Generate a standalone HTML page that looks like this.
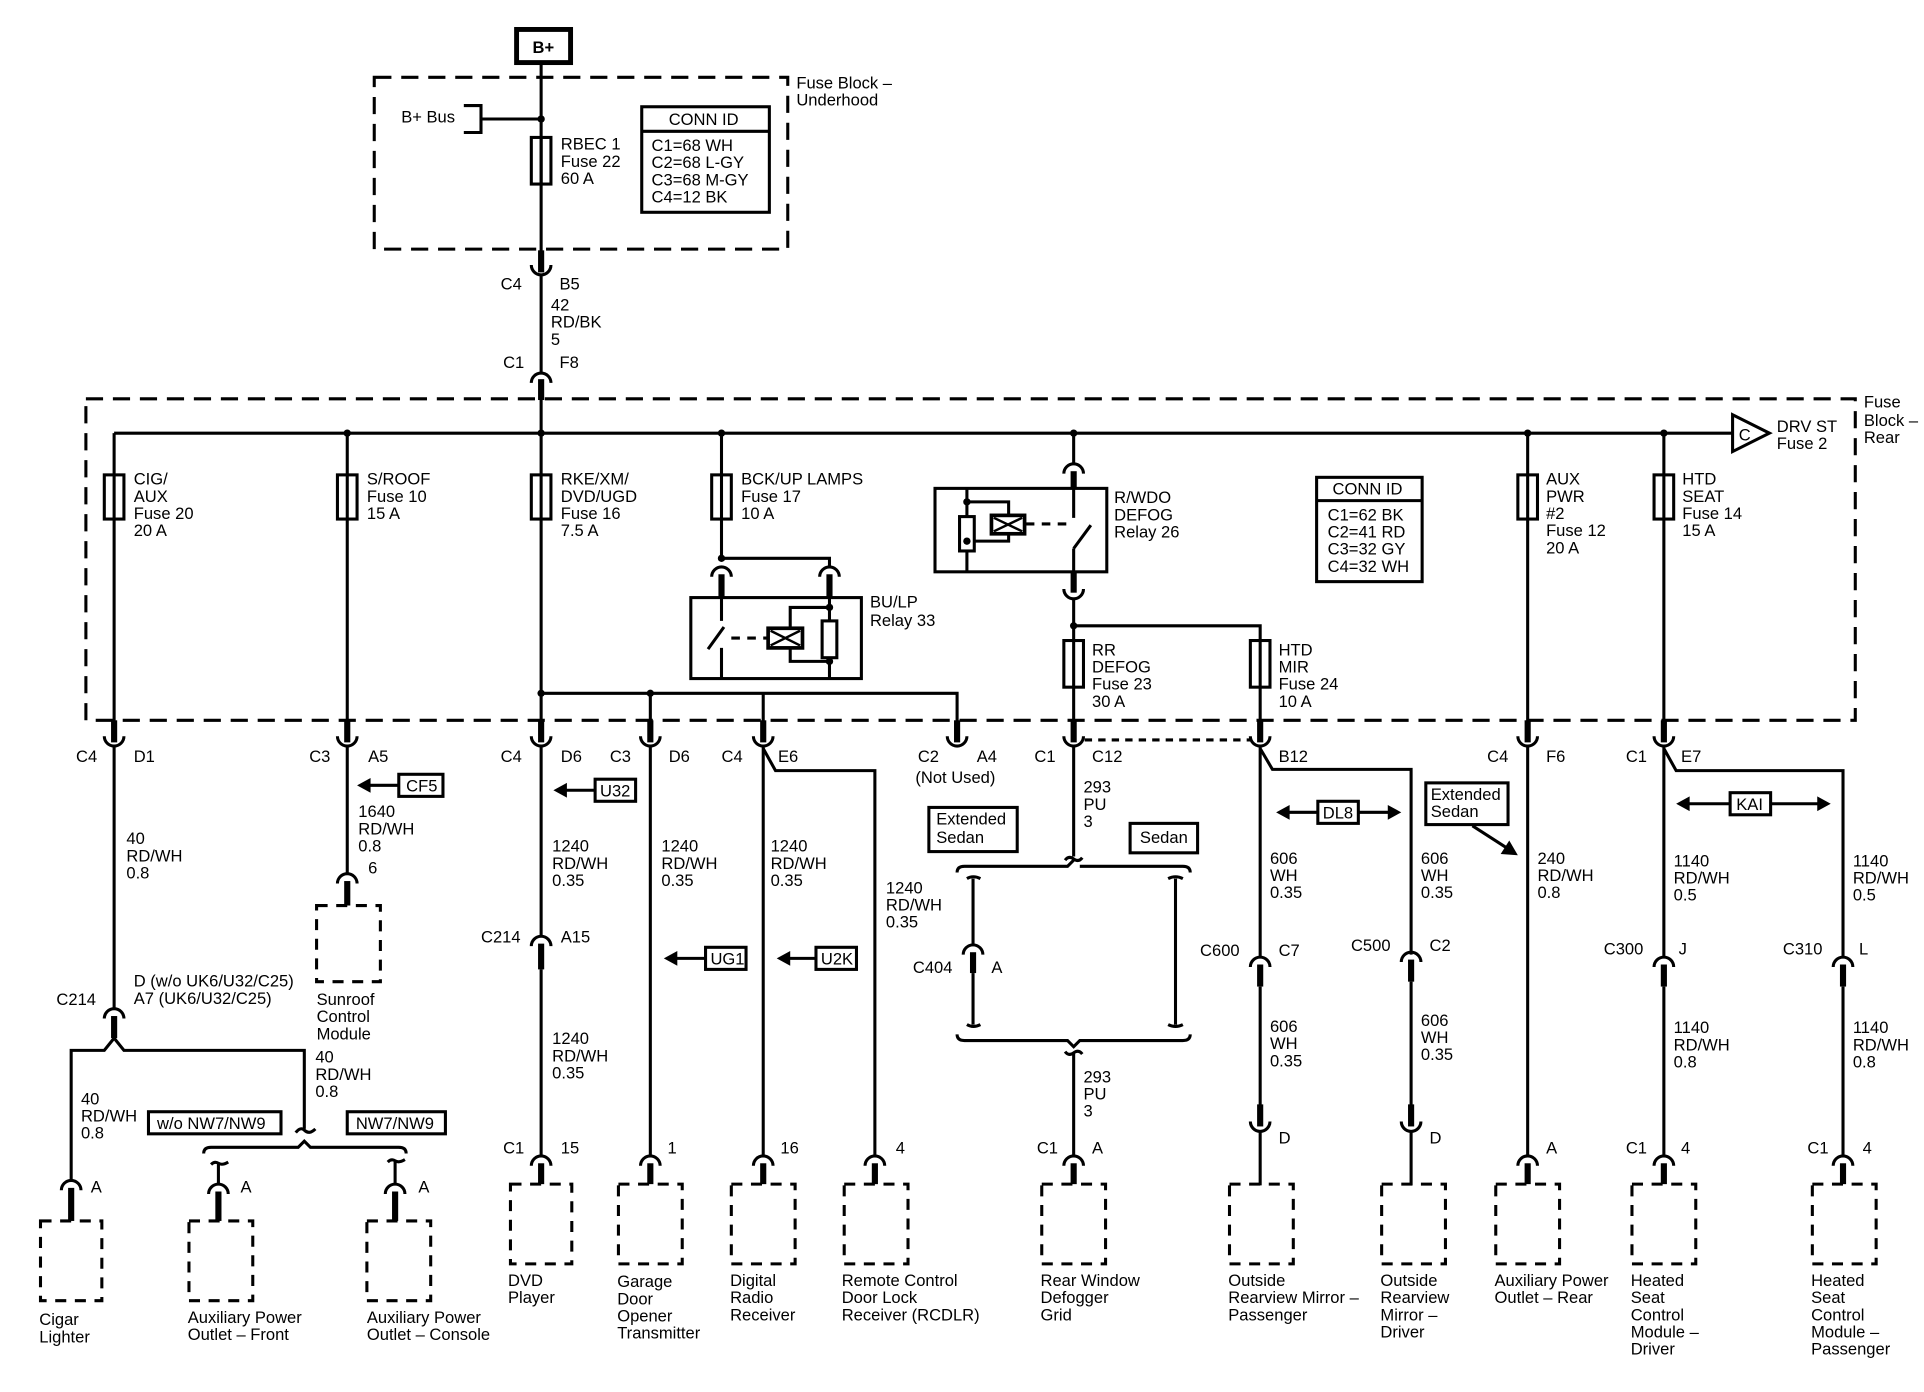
<!DOCTYPE html>
<html><head><meta charset="utf-8"><style>
html,body{margin:0;padding:0;background:#fff;}
svg{display:block;}
text{font-family:"Liberation Sans",Arial,sans-serif;font-size:13.5px;fill:#000;}
.w{stroke:#000;stroke-width:2.5;fill:none;}
.p{stroke:#000;stroke-width:5;fill:none;}
.d{stroke:#000;stroke-width:2.5;fill:none;stroke-dasharray:14 8;}
.db{stroke:#000;stroke-width:2.5;fill:#fff;stroke-dasharray:9 7;}
.b{stroke:#000;stroke-width:2.5;fill:#fff;}
.f{stroke:#000;stroke-width:2.5;fill:none;}
</style></head><body>
<svg width="1924" height="1392" viewBox="0 0 1568 1134.4" preserveAspectRatio="none" xmlns="http://www.w3.org/2000/svg">
<defs>
<path id="U" d="M-8,0 A8,8 0 0 0 8,0" stroke="#000" stroke-width="2.5" fill="none"/>
<path id="N" d="M-8,8 A8,8 0 0 1 8,8" stroke="#000" stroke-width="2.5" fill="none"/>
<circle id="dot" r="3" fill="#000"/>
</defs>

<!-- TOP -->
<rect x="421" y="24" width="44" height="27" fill="#fff" stroke="#000" stroke-width="4"/>
<text x="434" y="43" font-weight="bold">B+</text>
<line class="w" x1="441" y1="51" x2="441" y2="206"/>
<rect class="d" x="305" y="63" width="337" height="140"/>
<text x="327" y="100">B+ Bus</text>
<path class="w" d="M378,86 H392 V108 H378 M392,97 H441"/>
<use href="#dot" x="441" y="97"/>
<rect class="f" x="433" y="112" width="16" height="38" fill="#fff"/>
<line class="w" x1="441" y1="112" x2="441" y2="150"/>
<text x="457" y="122">RBEC 1</text><text x="457" y="136">Fuse 22</text><text x="457" y="150">60 A</text>
<rect class="b" x="523" y="87" width="104" height="86"/>
<line class="w" x1="523" y1="107" x2="627" y2="107"/>
<text x="545" y="102">CONN ID</text>
<text x="531" y="123">C1=68 WH</text><text x="531" y="137">C2=68 L-GY</text><text x="531" y="151">C3=68 M-GY</text><text x="531" y="165">C4=12 BK</text>
<text x="649" y="72">Fuse Block –</text><text x="649" y="86">Underhood</text>

<line class="p" x1="441" y1="204" x2="441" y2="222"/><use href="#U" x="441" y="216"/>
<text x="408" y="236">C4</text><text x="456" y="236">B5</text>
<line class="w" x1="441" y1="224" x2="441" y2="305"/>
<text x="449" y="253">42</text><text x="449" y="267">RD/BK</text><text x="449" y="281">5</text>
<text x="410" y="300">C1</text><text x="456" y="300">F8</text>
<use href="#N" x="441" y="304"/><line class="p" x1="441" y1="309" x2="441" y2="326"/>

<!-- REAR FUSE BLOCK -->
<rect class="d" x="70" y="325" width="1442" height="262"/>
<line class="w" x1="93" y1="353" x2="1412" y2="353"/>
<path class="b" d="M1412,338 L1442,353 L1412,368 Z"/>
<text x="1417" y="359">C</text>
<text x="1448" y="352">DRV ST</text><text x="1448" y="366">Fuse 2</text>
<text x="1519" y="332">Fuse</text><text x="1519" y="347">Block –</text><text x="1519" y="361">Rear</text>
<use href="#dot" x="283" y="353"/><use href="#dot" x="441" y="353"/><use href="#dot" x="588" y="353"/><use href="#dot" x="875" y="353"/><use href="#dot" x="1245" y="353"/><use href="#dot" x="1356" y="353"/>

<path class="w" d="M93,353 V590 M283,353 V590 M441,326 V590 M1245,353 V590 M1356,353 V590"/>
<rect class="f" x="85" y="387" width="16" height="36" fill="none"/>
<rect class="f" x="275" y="387" width="16" height="36"/>
<rect class="f" x="433" y="387" width="16" height="36"/>
<rect class="f" x="580" y="387" width="16" height="36"/>
<rect class="f" x="1237" y="387" width="16" height="36"/>
<rect class="f" x="1348" y="387" width="16" height="36"/>
<text x="109" y="395">CIG/</text><text x="109" y="409">AUX</text><text x="109" y="423">Fuse 20</text><text x="109" y="437">20 A</text>
<text x="299" y="395">S/ROOF</text><text x="299" y="409">Fuse 10</text><text x="299" y="423">15 A</text>
<text x="457" y="395">RKE/XM/</text><text x="457" y="409">DVD/UGD</text><text x="457" y="423">Fuse 16</text><text x="457" y="437">7.5 A</text>
<text x="604" y="395">BCK/UP LAMPS</text><text x="604" y="409">Fuse 17</text><text x="604" y="423">10 A</text>
<text x="1260" y="395">AUX</text><text x="1260" y="409">PWR</text><text x="1260" y="423">#2</text><text x="1260" y="437">Fuse 12</text><text x="1260" y="451">20 A</text>
<text x="1371" y="395">HTD</text><text x="1371" y="409">SEAT</text><text x="1371" y="423">Fuse 14</text><text x="1371" y="437">15 A</text>

<!-- BU/LP relay -->
<path class="w" d="M588,353 V455 H676 V462"/>
<use href="#dot" x="588" y="455"/>
<use href="#N" x="588" y="462"/><use href="#N" x="676" y="462"/>
<line class="p" x1="588" y1="468" x2="588" y2="488"/><line class="p" x1="676" y1="468" x2="676" y2="488"/>
<rect class="b" x="563" y="487" width="139" height="66"/>
<path class="w" d="M588,487 V506 M577,529 L590,511 M588,528 V553 M676,487 V553 M676,495 H644 V539 H676"/>
<path class="w" d="M596,520 H625" stroke-dasharray="7 6"/>
<rect x="626" y="512" width="28" height="16" fill="#fff" stroke="#000" stroke-width="3"/>
<path d="M628,514 L652,526 M652,514 L628,526" stroke="#000" stroke-width="2"/>
<rect class="b" x="670" y="506" width="12" height="30"/>
<use href="#dot" x="676" y="495"/><use href="#dot" x="676" y="539"/>
<text x="709" y="495">BU/LP</text><text x="709" y="510">Relay 33</text>

<path class="w" d="M441,565 H780 V590 M530,565 V590 M622,565 V590"/>
<use href="#dot" x="441" y="565"/><use href="#dot" x="530" y="565"/>

<!-- R/WDO relay -->
<path class="w" d="M875,353 V378"/>
<use href="#N" x="875" y="378"/><line class="p" x1="875" y1="384" x2="875" y2="399"/>
<rect class="b" x="762" y="398" width="140" height="68"/>
<path class="w" d="M875,398 V422 M875,447 L889,428 M875,447 V466 M788,398 V466 M788,409 H822 V441 H788"/>
<path class="w" d="M836,427 H870" stroke-dasharray="7 6"/>
<rect x="808" y="420" width="27" height="15" fill="#fff" stroke="#000" stroke-width="3"/>
<path d="M810,422 L833,433 M833,422 L810,433" stroke="#000" stroke-width="2"/>
<rect class="b" x="782" y="421" width="12" height="28"/>
<use href="#dot" x="788" y="409"/><use href="#dot" x="788" y="441"/>
<text x="908" y="410">R/WDO</text><text x="908" y="424">DEFOG</text><text x="908" y="438">Relay 26</text>
<line class="p" x1="875" y1="466" x2="875" y2="483"/><use href="#U" x="875" y="480"/>
<path class="w" d="M875,488 V590 M875,510 H1027 V590"/>
<use href="#dot" x="875" y="510"/>
<rect class="f" x="867" y="522" width="16" height="38"/>
<rect class="f" x="1019" y="522" width="16" height="38"/>
<text x="890" y="534">RR</text><text x="890" y="548">DEFOG</text><text x="890" y="562">Fuse 23</text><text x="890" y="576">30 A</text>
<text x="1042" y="534">HTD</text><text x="1042" y="548">MIR</text><text x="1042" y="562">Fuse 24</text><text x="1042" y="576">10 A</text>

<rect class="b" x="1073" y="389" width="86" height="85"/>
<line class="w" x1="1073" y1="408" x2="1159" y2="408"/>
<text x="1086" y="403">CONN ID</text>
<text x="1082" y="424">C1=62 BK</text><text x="1082" y="438">C2=41 RD</text><text x="1082" y="452">C3=32 GY</text><text x="1082" y="466">C4=32 WH</text>

<g>
<line class="p" x1="93" y1="587" x2="93" y2="605"/><use href="#U" x="93" y="600"/>
<line class="p" x1="283" y1="587" x2="283" y2="605"/><use href="#U" x="283" y="600"/>
<line class="p" x1="441" y1="587" x2="441" y2="605"/><use href="#U" x="441" y="600"/>
<line class="p" x1="530" y1="587" x2="530" y2="605"/><use href="#U" x="530" y="600"/>
<line class="p" x1="622" y1="587" x2="622" y2="605"/><use href="#U" x="622" y="600"/>
<line class="p" x1="780" y1="587" x2="780" y2="605"/><use href="#U" x="780" y="600"/>
<line class="p" x1="875" y1="587" x2="875" y2="605"/><use href="#U" x="875" y="600"/>
<line class="p" x1="1027" y1="587" x2="1027" y2="605"/><use href="#U" x="1027" y="600"/>
<line class="p" x1="1245" y1="587" x2="1245" y2="605"/><use href="#U" x="1245" y="600"/>
<line class="p" x1="1356" y1="587" x2="1356" y2="605"/><use href="#U" x="1356" y="600"/>
</g>
<text x="62" y="621">C4</text><text x="109" y="621">D1</text>
<text x="252" y="621">C3</text><text x="300" y="621">A5</text>
<text x="408" y="621">C4</text><text x="457" y="621">D6</text>
<text x="497" y="621">C3</text><text x="545" y="621">D6</text>
<text x="588" y="621">C4</text><text x="634" y="621">E6</text>
<text x="748" y="621">C2</text><text x="796" y="621">A4</text><text x="746" y="638">(Not Used)</text>
<text x="843" y="621">C1</text><text x="890" y="621">C12</text>
<text x="1042" y="621">B12</text>
<text x="1212" y="621">C4</text><text x="1260" y="621">F6</text>
<text x="1325" y="621">C1</text><text x="1370" y="621">E7</text>
<path class="w" d="M884,603 H1020" stroke-dasharray="6 5"/>

<!-- 93 branch -->
<line class="w" x1="93" y1="608" x2="93" y2="822"/>
<text x="103" y="688">40</text><text x="103" y="702">RD/WH</text><text x="103" y="716">0.8</text>
<text x="109" y="804">D (w/o UK6/U32/C25)</text><text x="109" y="818">A7 (UK6/U32/C25)</text>
<text x="46" y="819">C214</text>
<use href="#N" x="93" y="822"/><line class="p" x1="93" y1="828" x2="93" y2="846"/>
<path class="w" d="M58,962 V856 H85 L93,846 L101,856 H248 V920 M241,923 Q245,918 248,921 Q252,925 257,920"/>
<text x="66" y="900">40</text><text x="66" y="914">RD/WH</text><text x="66" y="928">0.8</text>
<text x="257" y="866">40</text><text x="257" y="880">RD/WH</text><text x="257" y="894">0.8</text>
<rect class="b" x="121" y="906" width="108" height="18"/><text x="128" y="920">w/o NW7/NW9</text>
<rect class="b" x="283" y="906" width="80" height="18"/><text x="290" y="920">NW7/NW9</text>
<path class="w" d="M166,940 Q166,935 172,935 H243 L248,930 L253,935 H325 Q331,935 331,940"/>
<path class="w" d="M172,949 Q175,946 178,948 Q181,950 186,947 M178,948 V965 M316,947 Q319,944 322,946 Q325,948 330,945 M322,946 V965"/>
<use href="#N" x="58" y="962"/><line class="p" x1="58" y1="968" x2="58" y2="996"/>
<use href="#N" x="178" y="965"/><line class="p" x1="178" y1="971" x2="178" y2="996"/>
<use href="#N" x="322" y="965"/><line class="p" x1="322" y1="971" x2="322" y2="996"/>
<text x="74" y="972">A</text><text x="196" y="972">A</text><text x="341" y="972">A</text>
<rect class="db" x="33" y="995" width="50" height="65"/>
<rect class="db" x="154" y="995" width="52" height="65"/>
<rect class="db" x="299" y="995" width="52" height="65"/>
<text x="32" y="1080">Cigar</text><text x="32" y="1094">Lighter</text>
<text x="153" y="1078">Auxiliary Power</text><text x="153" y="1092">Outlet – Front</text>
<text x="299" y="1078">Auxiliary Power</text><text x="299" y="1092">Outlet – Console</text>

<!-- 283 -->
<line class="w" x1="283" y1="608" x2="283" y2="712"/>
<rect class="b" x="325" y="631" width="36" height="18"/><text x="331" y="645">CF5</text>
<path class="w" d="M300,640 H325"/><path d="M291,640 L302,634 L302,646 Z" fill="#000"/>
<text x="292" y="666">1640</text><text x="292" y="680">RD/WH</text><text x="292" y="694">0.8</text><text x="300" y="712">6</text>
<use href="#N" x="283" y="712"/><line class="p" x1="283" y1="718" x2="283" y2="738"/>
<rect class="db" x="258" y="738" width="52" height="62"/>
<text x="258" y="819">Sunroof</text><text x="258" y="833">Control</text><text x="258" y="847">Module</text>

<!-- 441 -->
<line class="w" x1="441" y1="608" x2="441" y2="763"/>
<rect class="b" x="485" y="635" width="33" height="18"/><text x="489" y="649">U32</text>
<path class="w" d="M460,644 H485"/><path d="M451,644 L462,638 L462,650 Z" fill="#000"/>
<text x="450" y="694">1240</text><text x="450" y="708">RD/WH</text><text x="450" y="722">0.35</text>
<text x="392" y="768">C214</text><text x="457" y="768">A15</text>
<use href="#N" x="441" y="763"/><line class="p" x1="441" y1="769" x2="441" y2="790"/>
<line class="w" x1="441" y1="790" x2="441" y2="942"/>
<text x="450" y="851">1240</text><text x="450" y="865">RD/WH</text><text x="450" y="879">0.35</text>
<text x="410" y="940">C1</text><text x="457" y="940">15</text>

<line class="w" x1="530" y1="608" x2="530" y2="942"/>
<text x="539" y="694">1240</text><text x="539" y="708">RD/WH</text><text x="539" y="722">0.35</text>
<rect class="b" x="575" y="772" width="33" height="18"/><text x="579" y="786">UG1</text>
<path class="w" d="M550,781 H575"/><path d="M541,781 L552,775 L552,787 Z" fill="#000"/>
<text x="544" y="940">1</text>
<line class="w" x1="622" y1="608" x2="622" y2="942"/>
<text x="628" y="694">1240</text><text x="628" y="708">RD/WH</text><text x="628" y="722">0.35</text>
<rect class="b" x="665" y="772" width="33" height="18"/><text x="669" y="786">U2K</text>
<path class="w" d="M642,781 H665"/><path d="M633,781 L644,775 L644,787 Z" fill="#000"/>
<text x="636" y="940">16</text>
<path class="w" d="M622,610 L632,628 H713 V942"/>
<text x="722" y="728">1240</text><text x="722" y="742">RD/WH</text><text x="722" y="756">0.35</text>
<text x="730" y="940">4</text>

<g>
<use href="#N" x="441" y="942"/><line class="p" x1="441" y1="948" x2="441" y2="966"/>
<use href="#N" x="530" y="942"/><line class="p" x1="530" y1="948" x2="530" y2="966"/>
<use href="#N" x="622" y="942"/><line class="p" x1="622" y1="948" x2="622" y2="966"/>
<use href="#N" x="713" y="942"/><line class="p" x1="713" y1="948" x2="713" y2="966"/>
<use href="#N" x="875" y="942"/><line class="p" x1="875" y1="948" x2="875" y2="966"/>
<use href="#N" x="1245" y="942"/><line class="p" x1="1245" y1="948" x2="1245" y2="966"/>
<use href="#N" x="1356" y="942"/><line class="p" x1="1356" y1="948" x2="1356" y2="966"/>
<use href="#N" x="1502" y="942"/><line class="p" x1="1502" y1="948" x2="1502" y2="966"/>
</g>
<rect class="db" x="416" y="965" width="50" height="65"/>
<rect class="db" x="504" y="965" width="52" height="65"/>
<rect class="db" x="596" y="965" width="52" height="65"/>
<rect class="db" x="688" y="965" width="52" height="65"/>
<rect class="db" x="849" y="965" width="52" height="65"/>
<rect class="db" x="1002" y="965" width="52" height="65"/>
<rect class="db" x="1126" y="965" width="52" height="65"/>
<rect class="db" x="1219" y="965" width="52" height="65"/>
<rect class="db" x="1330" y="965" width="52" height="65"/>
<rect class="db" x="1477" y="965" width="52" height="65"/>
<text x="414" y="1048">DVD</text><text x="414" y="1062">Player</text>
<text x="503" y="1049">Garage</text><text x="503" y="1063">Door</text><text x="503" y="1077">Opener</text><text x="503" y="1091">Transmitter</text>
<text x="595" y="1048">Digital</text><text x="595" y="1062">Radio</text><text x="595" y="1076">Receiver</text>
<text x="686" y="1048">Remote Control</text><text x="686" y="1062">Door Lock</text><text x="686" y="1076">Receiver (RCDLR)</text>
<text x="848" y="1048">Rear Window</text><text x="848" y="1062">Defogger</text><text x="848" y="1076">Grid</text>
<text x="1001" y="1048">Outside</text><text x="1001" y="1062">Rearview Mirror –</text><text x="1001" y="1076">Passenger</text>
<text x="1125" y="1048">Outside</text><text x="1125" y="1062">Rearview</text><text x="1125" y="1076">Mirror –</text><text x="1125" y="1090">Driver</text>
<text x="1218" y="1048">Auxiliary Power</text><text x="1218" y="1062">Outlet – Rear</text>
<text x="1329" y="1048">Heated</text><text x="1329" y="1062">Seat</text><text x="1329" y="1076">Control</text><text x="1329" y="1090">Module –</text><text x="1329" y="1104">Driver</text>
<text x="1476" y="1048">Heated</text><text x="1476" y="1062">Seat</text><text x="1476" y="1076">Control</text><text x="1476" y="1090">Module –</text><text x="1476" y="1104">Passenger</text>

<!-- 875 defogger -->
<line class="w" x1="875" y1="608" x2="875" y2="698"/>
<text x="883" y="646">293</text><text x="883" y="660">PU</text><text x="883" y="674">3</text>
<rect class="b" x="757" y="658" width="72" height="36"/><text x="763" y="672">Extended</text><text x="763" y="687">Sedan</text>
<rect class="b" x="921" y="671" width="55" height="24"/><text x="929" y="687">Sedan</text>
<path class="w" d="M868,701 Q871,697 875,700 Q879,703 882,699 M875,701 L870,706 H786 Q780,706 780,711 M880,706 H964 Q970,706 970,711"/>
<path class="w" d="M788,716 Q793,713 799,716 M793,716 V770 M952,716 Q958,713 964,716 M958,716 V835 M788,835 Q793,838 799,835 M952,835 Q958,838 964,835"/>
<use href="#N" x="793" y="770"/><line class="p" x1="793" y1="776" x2="793" y2="793"/><line class="w" x1="793" y1="793" x2="793" y2="835"/>
<text x="744" y="793">C404</text><text x="808" y="793">A</text>
<path class="w" d="M780,843 Q780,848 786,848 H870 L875,853 L880,848 H964 Q970,848 970,843 M868,857 Q871,861 875,858 Q879,855 882,859 M875,858 V942"/>
<text x="883" y="882">293</text><text x="883" y="896">PU</text><text x="883" y="910">3</text>
<text x="845" y="940">C1</text><text x="890" y="940">A</text>

<!-- mirrors -->
<path class="w" d="M1027,608 V780 M1027,610 L1037,627 H1150 V778"/>
<rect class="b" x="1074" y="653" width="33" height="18"/><text x="1078" y="667">DL8</text>
<path class="w" d="M1050,662 H1074 M1107,662 H1132"/>
<path d="M1040,662 L1051,656 L1051,668 Z M1142,662 L1131,656 L1131,668 Z" fill="#000"/>
<text x="1035" y="704">606</text><text x="1035" y="718">WH</text><text x="1035" y="732">0.35</text>
<text x="1158" y="704">606</text><text x="1158" y="718">WH</text><text x="1158" y="732">0.35</text>
<text x="978" y="779">C600</text><text x="1042" y="779">C7</text>
<text x="1101" y="775">C500</text><text x="1165" y="775">C2</text>
<use href="#N" x="1027" y="780"/><line class="p" x1="1027" y1="786" x2="1027" y2="804"/>
<use href="#N" x="1150" y="776"/><line class="p" x1="1150" y1="782" x2="1150" y2="800"/>
<path class="w" d="M1027,804 V903 M1150,800 V903"/>
<text x="1035" y="841">606</text><text x="1035" y="855">WH</text><text x="1035" y="869">0.35</text>
<text x="1158" y="836">606</text><text x="1158" y="850">WH</text><text x="1158" y="864">0.35</text>
<line class="p" x1="1027" y1="900" x2="1027" y2="918"/><use href="#U" x="1027" y="914"/>
<line class="p" x1="1150" y1="900" x2="1150" y2="918"/><use href="#U" x="1150" y="914"/>
<path class="w" d="M1027,922 V966 M1150,922 V966"/>
<text x="1042" y="932">D</text><text x="1165" y="932">D</text>

<!-- 1245 -->
<line class="w" x1="1245" y1="608" x2="1245" y2="942"/>
<rect class="b" x="1162" y="638" width="67" height="34"/><text x="1166" y="652">Extended</text><text x="1166" y="666">Sedan</text>
<path class="w" d="M1200,673 L1228,691"/><path d="M1237,697 L1223,696 L1230,685 Z" fill="#000"/>
<text x="1253" y="704">240</text><text x="1253" y="718">RD/WH</text><text x="1253" y="732">0.8</text>
<text x="1260" y="940">A</text>

<!-- 1356 -->
<path class="w" d="M1356,608 V780 M1356,610 L1366,628 H1502 V780"/>
<rect class="b" x="1410" y="646" width="33" height="18"/><text x="1415" y="660">KAI</text>
<path class="w" d="M1376,655 H1410 M1443,655 H1482"/>
<path d="M1366,655 L1377,649 L1377,661 Z M1492,655 L1481,649 L1481,661 Z" fill="#000"/>
<text x="1364" y="706">1140</text><text x="1364" y="720">RD/WH</text><text x="1364" y="734">0.5</text>
<text x="1510" y="706">1140</text><text x="1510" y="720">RD/WH</text><text x="1510" y="734">0.5</text>
<text x="1307" y="778">C300</text><text x="1368" y="778">J</text>
<text x="1453" y="778">C310</text><text x="1515" y="778">L</text>
<use href="#N" x="1356" y="780"/><line class="p" x1="1356" y1="786" x2="1356" y2="804"/>
<use href="#N" x="1502" y="780"/><line class="p" x1="1502" y1="786" x2="1502" y2="804"/>
<path class="w" d="M1356,804 V942 M1502,804 V942"/>
<text x="1364" y="842">1140</text><text x="1364" y="856">RD/WH</text><text x="1364" y="870">0.8</text>
<text x="1510" y="842">1140</text><text x="1510" y="856">RD/WH</text><text x="1510" y="870">0.8</text>
<text x="1325" y="940">C1</text><text x="1370" y="940">4</text>
<text x="1473" y="940">C1</text><text x="1518" y="940">4</text>
</svg>
</body></html>
